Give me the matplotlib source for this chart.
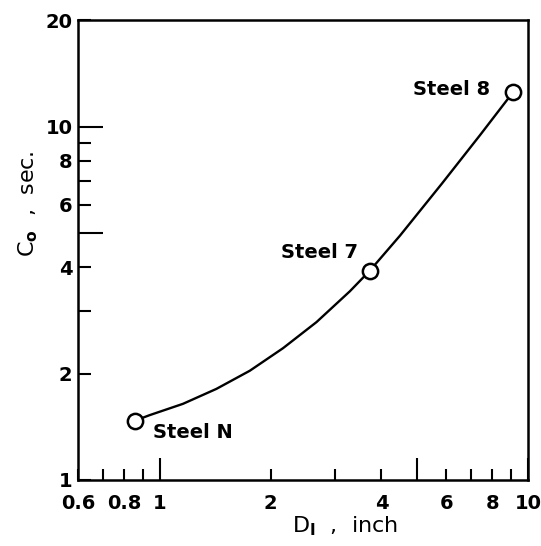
import matplotlib.pyplot as plt
from matplotlib import ticker

# steel grades, DI (inch) vs Co (sec)
steels = ["Steel N", "Steel 7", "Steel 8"]
di = [0.855, 3.72, 9.1]
co = [1.47, 3.91, 12.5]

# points
curve_x = [0.855, 0.939, 1.157, 1.426, 1.757, 2.163, 2.666, 3.283, 3.72,
           4.49, 5.84, 7.41, 9.1]
curve_y = [1.47, 1.525, 1.642, 1.810, 2.037, 2.36, 2.797, 3.418, 3.91,
           4.91, 6.90, 9.46, 12.5]

x_labels = {0.6: "0.6", 0.8: "0.8", 1: "1", 2: "2", 4: "4", 6: "6", 8: "8", 10: "10"}
y_labels = {1: "1", 2: "2", 4: "4", 6: "6", 8: "8", 10: "10", 20: "20"}

plt.rcParams["font.family"] = "DejaVu Sans"
plt.rcParams["font.weight"] = "bold"

fig = plt.figure(figsize=(5.41, 5.46), dpi=100)
ax = fig.add_axes([0.144, 0.121, 0.832, 0.842])

ax.plot(curve_x, curve_y, color="black", lw=1.7, zorder=2)
ax.plot(di, co, "o", ms=11, mfc="white", mec="black", mew=1.8, zorder=3)

ax.set_xscale("log")
ax.set_yscale("log")
ax.set_xlim(0.6, 10)
ax.set_ylim(1, 20)

# long ticks
ax.xaxis.set_major_locator(ticker.FixedLocator([1, 5, 10]))
ax.yaxis.set_major_locator(ticker.FixedLocator([5, 10]))
# short ticks
ax.xaxis.set_minor_locator(ticker.FixedLocator([0.6, 0.7, 0.8, 0.9, 2, 3, 4, 6, 7, 8, 9]))
ax.yaxis.set_minor_locator(ticker.FixedLocator([1, 2, 3, 4, 6, 7, 8, 9, 20]))

fmt_x = ticker.FuncFormatter(lambda v, p: x_labels.get(round(v, 3), ""))
fmt_y = ticker.FuncFormatter(lambda v, p: y_labels.get(round(v, 3), ""))
ax.xaxis.set_major_formatter(fmt_x)
ax.xaxis.set_minor_formatter(fmt_x)
ax.yaxis.set_major_formatter(fmt_y)
ax.yaxis.set_minor_formatter(fmt_y)

ax.tick_params(which="both", direction="in", width=1.5, labelsize=14)
ax.tick_params(axis="x", which="both", pad=10)
ax.tick_params(axis="y", which="both", pad=4)
ax.tick_params(axis="x", which="major", length=16)
ax.tick_params(axis="x", which="minor", length=8)
ax.tick_params(axis="y", which="major", length=18)
ax.tick_params(axis="y", which="minor", length=9)

for s in ax.spines.values():
    s.set_linewidth(1.8)

ax.text(0.96, 1.45, "Steel N", fontsize=14, ha="left", va="top")
ax.text(3.45, 4.15, "Steel 7", fontsize=14, ha="right", va="bottom")
ax.text(7.9, 12.75, "Steel 8", fontsize=14, ha="right", va="center")

ax.set_xlabel(r"D$_\mathrm{I}$  ,  inch", fontsize=16)
ax.xaxis.set_label_coords(0.593, -0.075)
ax.set_ylabel(r"C$_\mathrm{o}$  ,  sec.", fontsize=16)
ax.yaxis.set_label_coords(-0.085, 0.6)

fig.savefig("out.png", dpi=100)
